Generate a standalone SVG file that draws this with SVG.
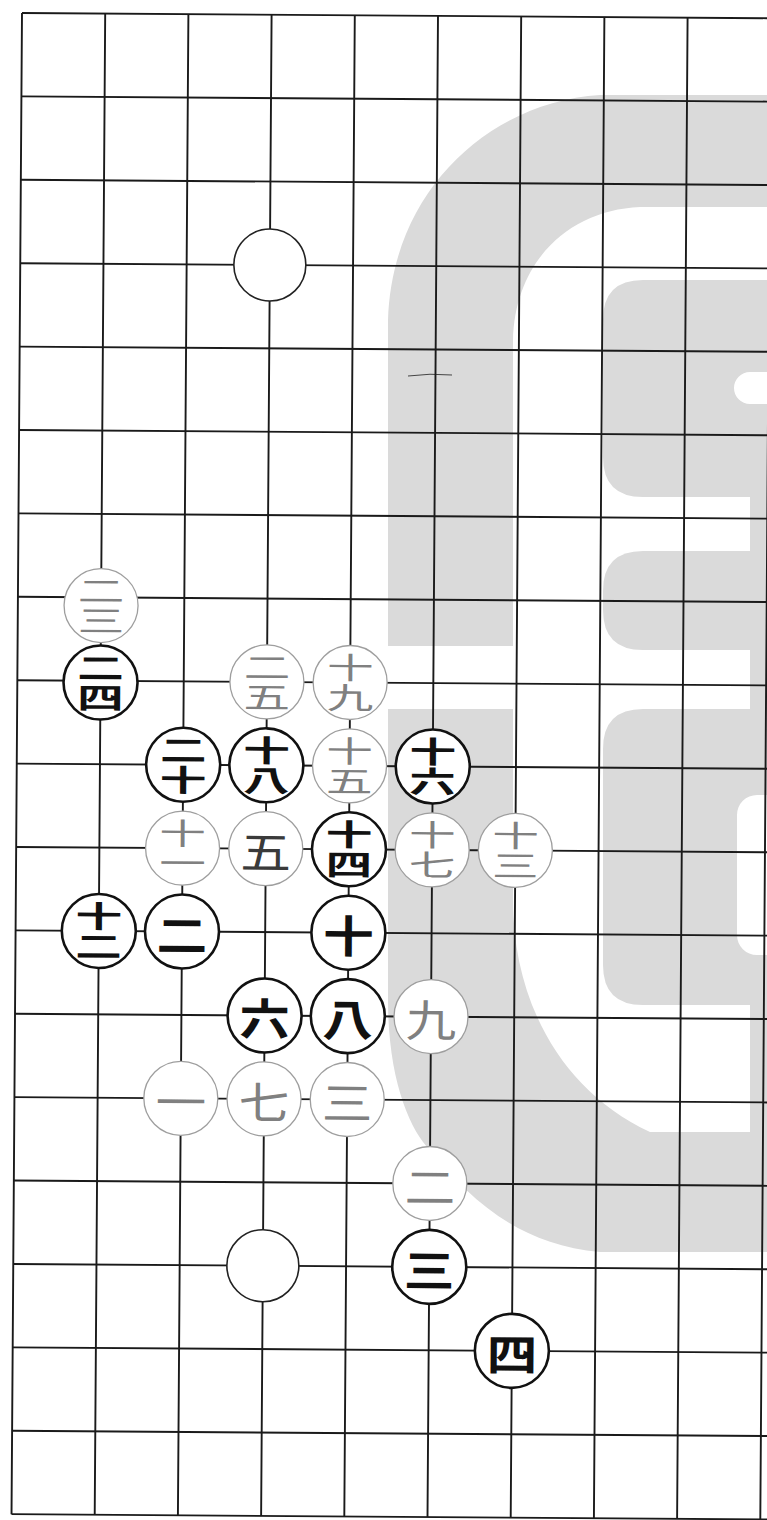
<svg xmlns="http://www.w3.org/2000/svg" width="767" height="1520" viewBox="0 0 767 1520">
<style>
.ln{stroke:#1a1a1a;stroke-width:1.9;fill:none}
.wm{fill:#dadada}
.stone circle{fill:#fff}
.b circle{stroke:#111;stroke-width:2.6}
.w circle{stroke:#9e9e9e;stroke-width:1.3}
.e circle{stroke:#222;stroke-width:1.6}
text{font-family:"Noto Sans CJK JP","Noto Sans CJK SC",sans-serif;text-anchor:middle;dominant-baseline:central}
.b text{fill:#111;font-weight:700}
.w text{fill:#808080;font-weight:400}
.w text.dk{fill:#3a3a3a}
.s1{font-size:44px}
.v{font-size:30px;writing-mode:vertical-rl}
</style>
<rect width="767" height="1520" fill="#fff"/>
<g id="watermark">
<path class="wm" d="M600 95 L767 95 L767 207 L640 207 C570 210 515 260 513 340 L513 646 L388 646 L388 320 C392 190 490 102 600 95 Z"/>
<path class="wm" d="M643 280 L767 280 L767 372 L750 372 A16 16 0 0 0 750 404 L767 404 L767 497 L643 497 Q603 497 603 457 L603 320 Q603 280 643 280 Z"/>
<path class="wm" d="M643 551 L767 551 L767 650 L643 650 Q603 650 603 610 L603 591 Q603 551 643 551 Z"/>
<path class="wm" d="M643 709 L767 709 L767 795 L757 795 A20 20 0 0 0 737 815 L737 935 A20 20 0 0 0 757 955 L767 955 L767 1005 L643 1005 Q603 1005 603 965 L603 749 Q603 709 643 709 Z"/>
<rect class="wm" x="750" y="490" width="17" height="70"/>
<rect class="wm" x="750" y="645" width="17" height="70"/>
<rect class="wm" x="750" y="1000" width="17" height="140"/>
<path class="wm" d="M388 709 L513 709 L513 900 C513 1000 560 1090 650 1132 L767 1132 L767 1252 L600 1252 C520 1245 470 1200 430 1150 C410 1130 388 1080 388 1000 Z"/>
</g>
<path d="M408 376 Q430 373 452 375" stroke="#444" stroke-width="1" fill="none"/>
<g transform="rotate(0.4 22 13)">
<g id="grid">
<path class="ln" d="M22 13V1514.2M105.2 13V1514.2M188.4 13V1514.2M271.6 13V1514.2M354.8 13V1514.2M438 13V1514.2M521.2 13V1514.2M604.4 13V1514.2M687.6 13V1514.2M770.8 13V1514.2"/>
<path class="ln" d="M22 13H790M22 96.4H790M22 179.8H790M22 263.2H790M22 346.6H790M22 430H790M22 513.4H790M22 596.8H790M22 680.2H790M22 763.6H790M22 847H790M22 930.4H790M22 1013.8H790M22 1097.2H790M22 1180.6H790M22 1264H790M22 1347.4H790M22 1430.8H790M22 1514.2H790"/>
</g>
<g id="stone-empty-top" class="stone e" transform="translate(271.6 263.2)"><circle r="36"/></g>
<g id="stone-23" class="stone w" transform="translate(105.2 605)"><circle r="37"/><text class="v" transform="scale(1.55 1)">二三</text></g>
<g id="stone-24" class="stone b" transform="translate(105.2 682)"><circle r="37"/><text class="v" transform="scale(1.55 1)">二四</text></g>
<g id="stone-25" class="stone w" transform="translate(271.6 680.2)"><circle r="37"/><text class="v" transform="scale(1.55 1)">二五</text></g>
<g id="stone-19" class="stone w" transform="translate(354.8 680.2)"><circle r="37"/><text class="v" transform="scale(1.55 1)">十九</text></g>
<g id="stone-20" class="stone b" transform="translate(188.4 763.6)"><circle r="37"/><text class="v" transform="scale(1.55 1)">二十</text></g>
<g id="stone-18" class="stone b" transform="translate(271.6 763.6)"><circle r="37"/><text class="v" transform="scale(1.55 1)">十八</text></g>
<g id="stone-15" class="stone w" transform="translate(354.8 763.6)"><circle r="37"/><text class="v" transform="scale(1.55 1)">十五</text></g>
<g id="stone-16" class="stone b" transform="translate(438 763.6)"><circle r="37"/><text class="v" transform="scale(1.55 1)">十六</text></g>
<g id="stone-11" class="stone w" transform="translate(188.4 847)"><circle r="37"/><text class="v" transform="scale(1.55 1)">十一</text></g>
<g id="stone-5" class="stone w" transform="translate(271.6 847)"><circle r="37"/><text class="s1 dk" transform="scale(1.15 1)" y="1">五</text></g>
<g id="stone-14" class="stone b" transform="translate(354.8 847)"><circle r="37"/><text class="v" transform="scale(1.55 1)">十四</text></g>
<g id="stone-17" class="stone w" transform="translate(438 847)"><circle r="37"/><text class="v" transform="scale(1.55 1)">十七</text></g>
<g id="stone-13" class="stone w" transform="translate(521.2 847)"><circle r="37"/><text class="v" transform="scale(1.55 1)">十三</text></g>
<g id="stone-12" class="stone b" transform="translate(105.2 930.4)"><circle r="37"/><text class="v" transform="scale(1.55 1)">十二</text></g>
<g id="stone-2" class="stone b" transform="translate(188.4 930.4)"><circle r="37"/><text class="s1" transform="scale(1.15 1)" y="1">二</text></g>
<g id="stone-10" class="stone b" transform="translate(354.8 930.4)"><circle r="37"/><text class="s1" transform="scale(1.15 1)" y="1">十</text></g>
<g id="stone-6" class="stone b" transform="translate(271.6 1013.8)"><circle r="37"/><text class="s1" transform="scale(1.15 1)" y="1">六</text></g>
<g id="stone-8" class="stone b" transform="translate(354.8 1013.8)"><circle r="37"/><text class="s1" transform="scale(1.15 1)" y="1">八</text></g>
<g id="stone-9" class="stone w" transform="translate(438 1013.8)"><circle r="37"/><text class="s1" transform="scale(1.15 1)" y="1">九</text></g>
<g id="stone-1" class="stone w" transform="translate(188.4 1097.2)"><circle r="37"/><text class="s1" transform="scale(1.15 1)" y="1">一</text></g>
<g id="stone-7" class="stone w" transform="translate(271.6 1097.2)"><circle r="37"/><text class="s1" transform="scale(1.15 1)" y="1">七</text></g>
<g id="stone-3" class="stone w" transform="translate(354.8 1097.2)"><circle r="37"/><text class="s1" transform="scale(1.15 1)" y="1">三</text></g>
<g id="stone-v2" class="stone w" transform="translate(438 1180.6)"><circle r="37"/><text class="s1" transform="scale(1.15 1)" y="1">二</text></g>
<g id="stone-empty-bottom" class="stone e" transform="translate(271.6 1264)"><circle r="36"/></g>
<g id="stone-v3" class="stone b" transform="translate(438 1264)"><circle r="37"/><text class="s1" transform="scale(1.15 1)" y="1">三</text></g>
<g id="stone-v4" class="stone b" transform="translate(521.2 1347.4)"><circle r="37"/><text class="s1" transform="scale(1.15 1)" y="1">四</text></g>
</g>
</svg>
